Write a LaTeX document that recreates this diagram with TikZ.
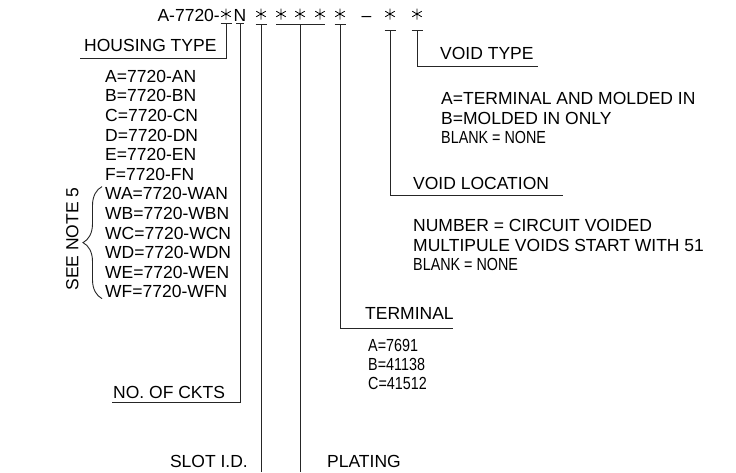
\documentclass[tikz,border=0pt]{standalone}
\usepackage{fontspec}
\setmainfont{Liberation Sans}
\newfontfamily\narrowfont[FakeStretch=0.82]{Liberation Sans}
\usetikzlibrary{decorations.pathreplacing}

\begin{document}
\begin{tikzpicture}[x=1pt, y=-1pt,
	every node/.style={font=\fontsize{17.5}{21}\selectfont, inner sep=0pt, text height=12.5pt, text depth=0pt},
	lbl/.style={anchor=west},
	nlbl/.style={anchor=west, font=\narrowfont\fontsize{17.5}{21}\selectfont},
	lead/.style={draw=black!85, line width=0.9pt},
	cadstar/.style={minimum size=12pt}]
	\useasboundingbox (0,0) rectangle (736,472);

	% part number
	\node[anchor=east] (pn) at (220,15) {A-7720-};
	\node[cadstar] (hs) at (226,14) {};
	\node (nn) at (240,15) {N};
	\node[cadstar] (sl) at (261,14) {};
	\node[cadstar] (pa) at (281,14) {};
	\node[cadstar] (pb) at (300,14) {};
	\node[cadstar] (pc) at (320,14) {};
	\node[cadstar] (tm) at (340,14) {};
	\node (dash) at (366.5,15) {--};
	\node[cadstar] (vl) at (390,14) {};
	\node[cadstar] (vt) at (417,14) {};
	\foreach \s in {hs,sl,pa,pb,pc,tm,vl,vt}
		\draw[line width=0.8pt] (\s.center) +(0,-5.5) -- +(0,5.5)
			+(-4.8,-2.8) -- +(4.8,2.8) +(-4.8,2.8) -- +(4.8,-2.8);

	% labels
	\node[lbl] (ht) at (84,45) {HOUSING TYPE};
	\foreach \k [count=\i from 0] in {A,B,C,D,E,F,WA,WB,WC,WD,WE,WF}
		\node[lbl] (h\i) at (105,76+19.6*\i) {\k=7720-\k N};
	\node[rotate=90] (note) at (72,239) {SEE NOTE 5};
	\node[lbl] (ck) at (113,392) {NO. OF CKTS};
	\node[anchor=east] (slot) at (248,461) {SLOT I.D.};
	\node[lbl] (plat) at (327,461) {PLATING};
	\node[lbl] (term) at (365,313) {TERMINAL};
	\node[nlbl] (t1) at (368,345) {A=7691};
	\node[nlbl] (t2) at (368,364) {B=41138};
	\node[nlbl] (t3) at (368,383) {C=41512};
	\node[lbl] (vloc) at (413,183) {VOID LOCATION};
	\node[lbl] (l1) at (413,225) {NUMBER = CIRCUIT VOIDED};
	\node[lbl] (l2) at (413,245) {MULTIPULE VOIDS START WITH 51};
	\node[nlbl] (l3) at (413,264) {BLANK = NONE};
	\node[lbl] (vtyp) at (440,53) {VOID TYPE};
	\node[lbl] (v1) at (441,98) {A=TERMINAL AND MOLDED IN};
	\node[lbl] (v2) at (441,118) {B=MOLDED IN ONLY};
	\node[nlbl] (v3) at (441,137) {BLANK = NONE};

	% brace
	\draw[lead, decorate, decoration={brace, amplitude=19pt}] (h11.west) ++(-3,7) coordinate (bb) -- ([xshift=-3pt, yshift=7pt]h6.west) coordinate (bt);

	% leader ends
	\coordinate (htend) at (80,58);
	\coordinate (ckend) at (112,402);
	\coordinate (slend) at (261,472);
	\coordinate (plend) at (300,472);
	\coordinate (tmend) at (453,328);
	\coordinate (vlend) at (563,195);
	\coordinate (vtend) at (538,66);

	% bars under the code letters
	\foreach \s/\d in {hs/3, sl/4, tm/4, vl/10, vt/10}
		\draw[lead] ([shift={(-5.5pt,-\d pt)}]\s.south) -- ([shift={(5.5pt,-\d pt)}]\s.south);
	\draw[lead] ([shift={(-4pt,-2pt)}]nn.south) -- ([shift={(4pt,-2pt)}]nn.south);
	\draw[lead] ([shift={(-5pt,-4pt)}]pa.south) -- ([shift={(5pt,-4pt)}]pc.south);

	% leaders
	\draw[lead] ([yshift=-3pt]hs.south) |- (htend);
	\draw[lead] ([yshift=-2pt]nn.south) |- (ckend);
	\draw[lead] ([yshift=-4pt]sl.south) -- (slend);
	\draw[lead] ([yshift=-4pt]pb.south) -- (plend);
	\draw[lead] ([yshift=-4pt]tm.south) |- (tmend);
	\draw[lead] ([yshift=-10pt]vl.south) |- (vlend);
	\draw[lead] ([yshift=-10pt]vt.south) |- (vtend);
\end{tikzpicture}
\end{document}
